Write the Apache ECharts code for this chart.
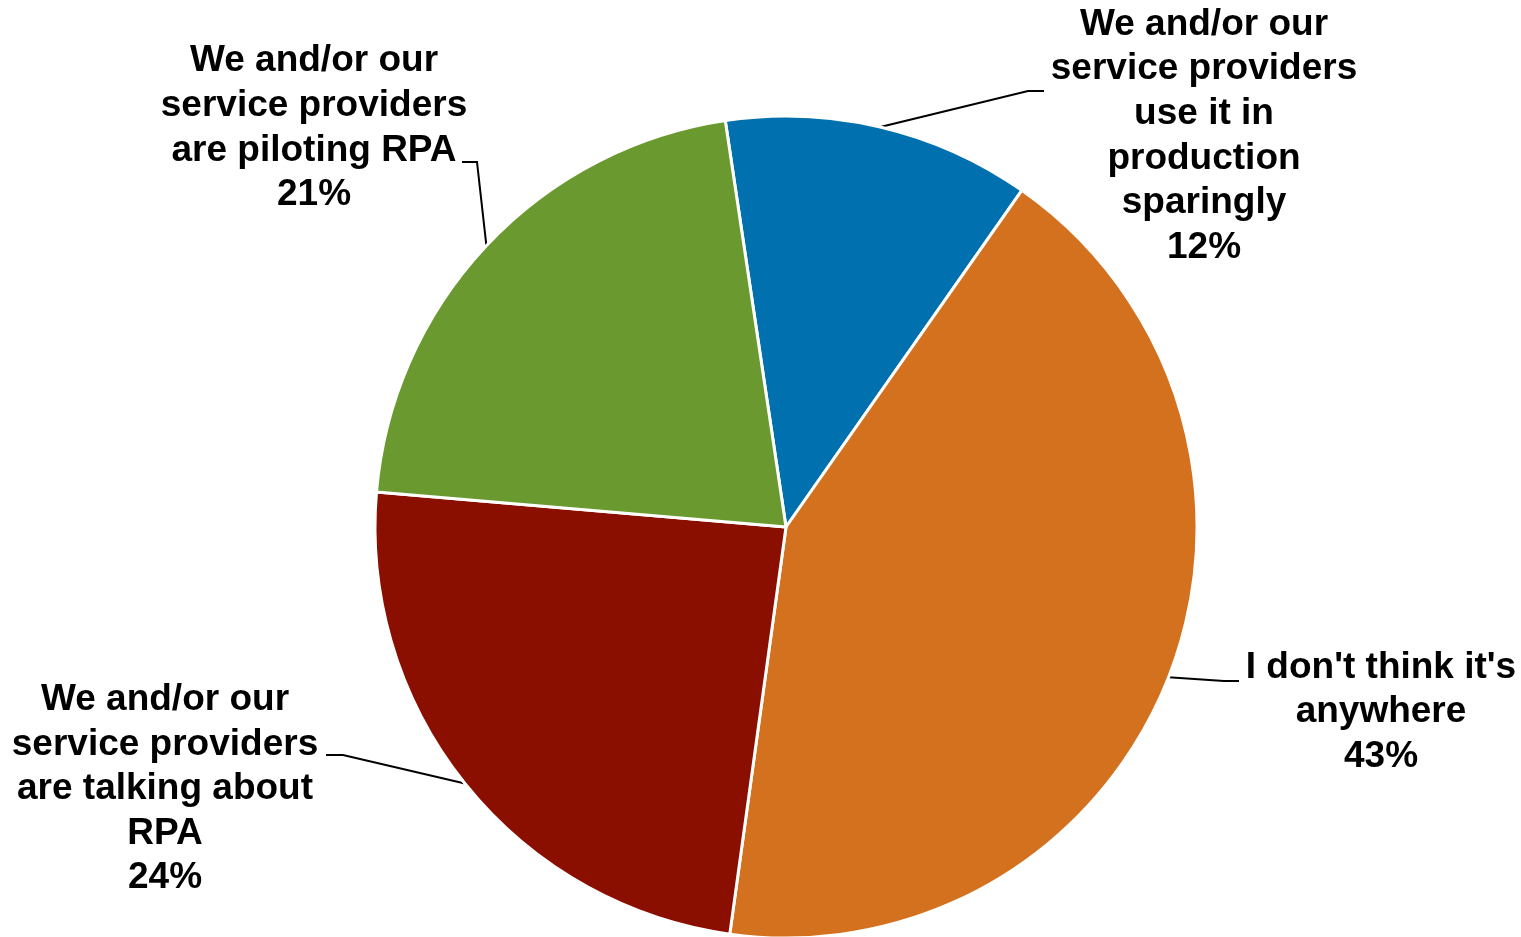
<!DOCTYPE html>
<html>
<head>
<meta charset="utf-8">
<title>RPA usage</title>
<script src="https://cdn.jsdelivr.net/npm/echarts@6/dist/echarts.min.js"></script>
<style>
  html, body { margin: 0; padding: 0; background: #fff; }
  #chart { width: 1521px; height: 937px; }
</style>
</head>
<body>
<div id="chart"></div>
<script>
// slices, clockwise from the top
const categories = [
  'We and/or our\nservice providers\nuse it in\nproduction\nsparingly',
  "I don't think it's\nanywhere",
  'We and/or our\nservice providers\nare talking about\nRPA',
  'We and/or our\nservice providers\nare piloting RPA'
];
const shares = [12.1, 42.5, 24.2, 21.3];
const shareLabels = ['12%', '43%', '24%', '21%'];
const colors = ['#0070ae', '#d4711f', '#8b0f00', '#6a9a2f'];

// where each label block sits and how its leader line bends
const labelSpots = [
  { x: 1204, y: 136, elbow: [1028, 91], end: [1044, 91] },
  { x: 1381, y: 712, elbow: [1224, 681], end: [1239, 681] },
  { x: 165, y: 789, elbow: [343, 755], end: [326, 755] },
  { x: 314, y: 128, elbow: [477, 162], end: [462, 162] }
];

const chart = echarts.init(document.getElementById('chart'));

chart.setOption({
  animation: false,
  color: colors,
  series: [
    {
      type: 'pie',
      center: [786, 527],
      radius: 411,
      startAngle: 98.5,
      clockwise: true,
      avoidLabelOverlap: false,
      itemStyle: {
        borderColor: '#fff',
        borderWidth: 3
      },
      label: {
        show: true,
        position: 'outside',
        formatter: (p) => p.name + '\n' + shareLabels[p.dataIndex],
        fontFamily: '"Liberation Sans", Arial, sans-serif',
        fontWeight: 'bold',
        fontSize: 37,
        lineHeight: 44.6,
        color: '#000',
        align: 'center'
      },
      labelLine: {
        show: true,
        lineStyle: { color: '#000', width: 2 }
      },
      labelLayout: (params) => {
        const s = labelSpots[params.dataIndex];
        const start = params.labelLinePoints[0];
        return {
          x: s.x,
          y: s.y,
          align: 'center',
          verticalAlign: 'middle',
          labelLinePoints: [start, s.elbow, s.end]
        };
      },
      emphasis: { disabled: true },
      data: categories.map((name, i) => ({ name: name, value: shares[i] }))
    }
  ]
});
</script>
</body>
</html>
